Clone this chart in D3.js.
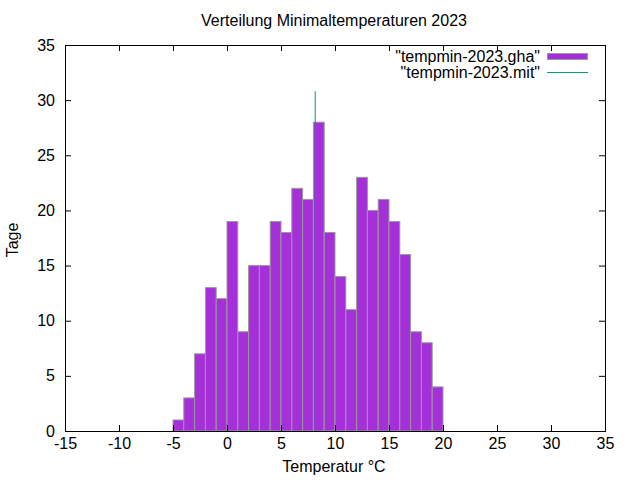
<!DOCTYPE html>
<html>
<head>
<meta charset="utf-8">
<script src="https://cdn.jsdelivr.net/npm/d3@7"></script>
<style>
  body { margin: 0; background: #fff; }
  svg text { font-family: "Liberation Sans", Arial, sans-serif; fill: #000; }
</style>
</head>
<body>
<svg id="chart" width="640" height="480"></svg>
<script>
// histogram bins (lower edge, width 1 degree) and day counts
var binStart = [-5, -4, -3, -2, -1, 0, 1, 2, 3, 4, 5, 6, 7, 8, 9, 10, 11, 12, 13, 14, 15, 16, 17, 18, 19];
var ghaDays  = [ 1,  3,  7, 13, 12, 19, 9, 15, 15, 19, 18, 22, 21, 28, 18, 14, 11, 23, 20, 21, 19, 16, 9, 8, 4];

// mean line ("mit" series)
var mitX = [8.17];
var mitY = [30.8];

var xTicks = [-15, -10, -5, 0, 5, 10, 15, 20, 25, 30, 35];
var yTicks = [0, 5, 10, 15, 20, 25, 30, 35];

var svg = d3.select("#chart");
var margin = {top: 45, right: 35, bottom: 49, left: 65};
var width = 640 - margin.left - margin.right;
var height = 480 - margin.top - margin.bottom;

var x = d3.scaleLinear().domain([-15, 35]).range([margin.left, margin.left + width]);
var y = d3.scaleLinear().domain([0, 35]).range([margin.top + height, margin.top]);

var fontSize = "16px";
// gnuplot prints a plain hyphen for negatives
var plain = function(d) { return String(d); };

// bars
svg.append("g").selectAll("rect")
    .data(binStart)
    .enter().append("rect")
    .attr("x", function(d) { return x(d); })
    .attr("y", function(d, i) { return y(ghaDays[i]); })
    .attr("width", function(d) { return x(d + 1) - x(d); })
    .attr("height", function(d, i) { return y(0) - y(ghaDays[i]); })
    .style("fill", "#a52fd8")
    .style("stroke", "#999999")
    .style("stroke-width", 1);

// mean impulse
svg.append("g").selectAll("line")
    .data(mitX)
    .enter().append("line")
    .attr("x1", function(d) { return x(d); })
    .attr("x2", function(d) { return x(d); })
    .attr("y1", y(0))
    .attr("y2", function(d, i) { return y(mitY[i]); })
    .style("stroke", "#009e73")
    .style("stroke-width", 1);

// axes, ticks inward on all four sides
var tick = 6;
var bottomAxis = d3.axisBottom(x).tickValues(xTicks).tickSize(-tick).tickFormat(plain);
var topAxis = d3.axisTop(x).tickValues(xTicks).tickSize(-tick).tickFormat("");
var leftAxis = d3.axisLeft(y).tickValues(yTicks).tickSize(-tick).tickFormat(plain);
var rightAxis = d3.axisRight(y).tickValues(yTicks).tickSize(-tick).tickFormat("");

function styleAxis(g) {
    g.select(".domain").remove();
    g.selectAll(".tick line").style("stroke", "#000");
    g.selectAll(".tick text").style("font-size", fontSize).attr("font-family", null);
}

svg.append("g").attr("transform", "translate(0," + y(0) + ")").call(bottomAxis).call(styleAxis)
    .selectAll(".tick text").attr("y", 7).attr("dy", "0.71em");
svg.append("g").attr("transform", "translate(0," + y(35) + ")").call(topAxis).call(styleAxis);
svg.append("g").attr("transform", "translate(" + x(-15) + ",0)").call(leftAxis).call(styleAxis)
    .selectAll(".tick text").attr("x", -10);
svg.append("g").attr("transform", "translate(" + x(35) + ",0)").call(rightAxis).call(styleAxis);

// border
svg.append("rect")
    .attr("x", x(-15) + 0.5).attr("y", y(35) + 0.5)
    .attr("width", x(35) - x(-15)).attr("height", y(0) - y(35))
    .style("fill", "none").style("stroke", "#000").style("stroke-width", 1);

// titles
svg.append("text")
    .attr("x", 334).attr("y", 26)
    .attr("text-anchor", "middle")
    .style("font-size", fontSize)
    .text("Verteilung Minimaltemperaturen 2023");

svg.append("text")
    .attr("x", 334).attr("y", 472)
    .attr("text-anchor", "middle")
    .style("font-size", fontSize)
    .text("Temperatur °C");

svg.append("text")
    .attr("transform", "translate(17.5,240) rotate(-90)")
    .attr("text-anchor", "middle")
    .style("font-size", fontSize)
    .text("Tage");

// legend
var legend = [
    {name: '"tempmin-2023.gha"', type: "box"},
    {name: '"tempmin-2023.mit"', type: "line"}
];
var lg = svg.append("g").selectAll("g")
    .data(legend)
    .enter().append("g")
    .attr("transform", function(d, i) { return "translate(0," + (56.5 + i * 15.5) + ")"; });

lg.append("text")
    .attr("x", 540).attr("y", 5.5)
    .attr("text-anchor", "end")
    .style("font-size", fontSize)
    .text(function(d) { return d.name; });

lg.filter(function(d) { return d.type === "box"; }).append("rect")
    .attr("x", 547.5).attr("y", -3).attr("width", 40).attr("height", 6)
    .style("fill", "#a52fd8").style("stroke", "#999999");

lg.filter(function(d) { return d.type === "line"; }).append("line")
    .attr("x1", 547).attr("x2", 588).attr("y1", 0.5).attr("y2", 0.5)
    .style("stroke", "#009e73");
</script>
</body>
</html>
